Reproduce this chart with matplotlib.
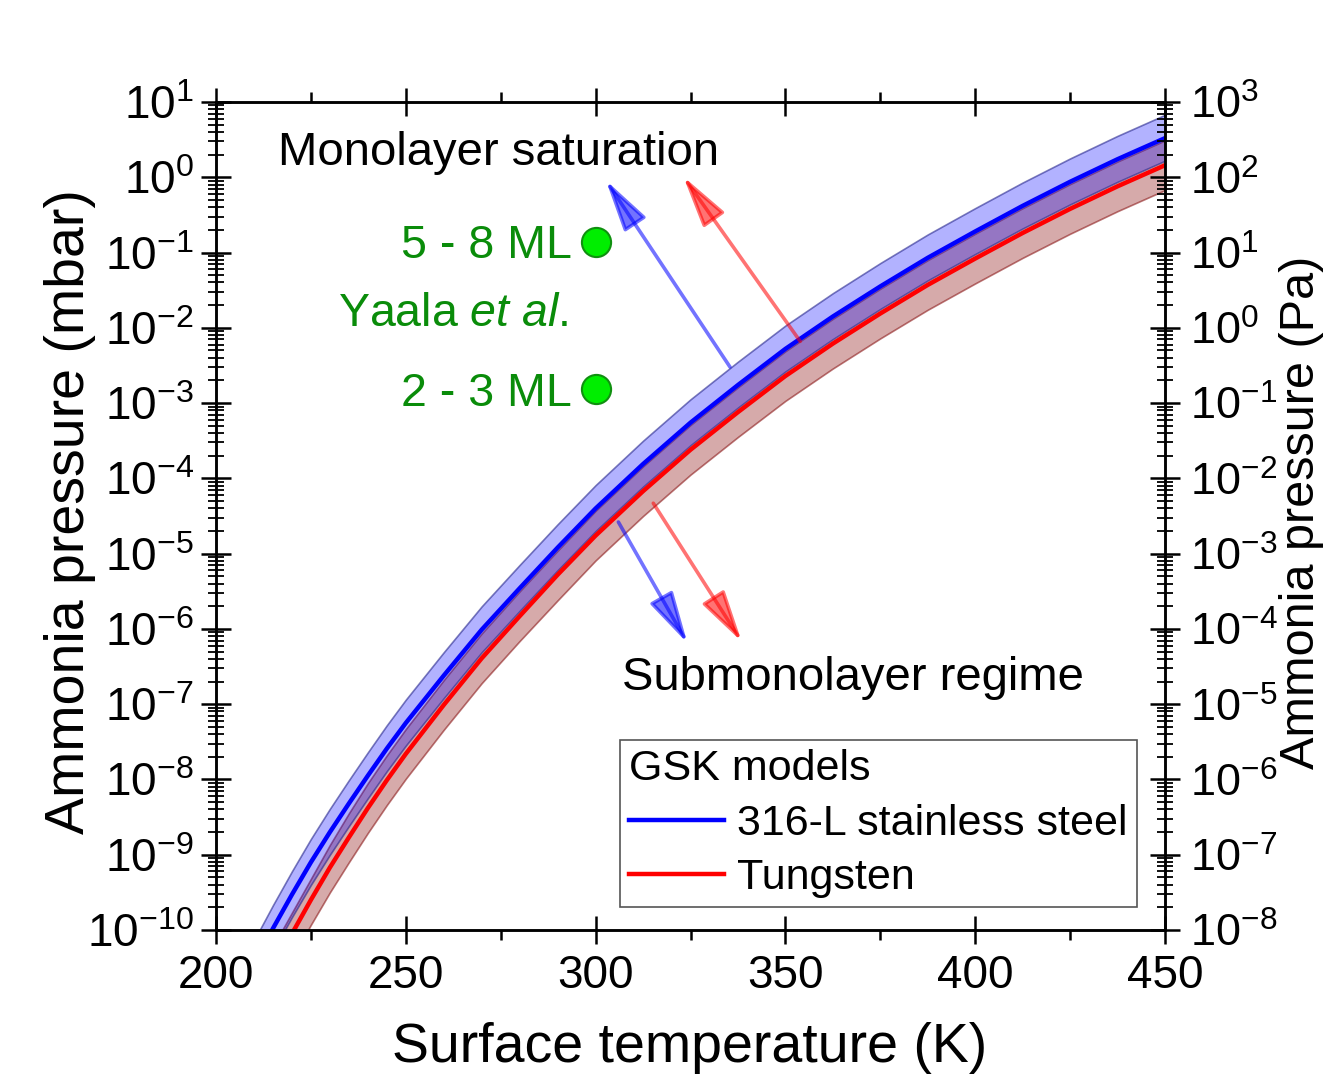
import numpy as np
import matplotlib
matplotlib.use("Agg")
import matplotlib.pyplot as plt
from matplotlib.ticker import LogLocator, MultipleLocator, NullFormatter

plt.rcParams['font.family'] = ['Liberation Sans', 'DejaVu Sans']
plt.rcParams['mathtext.fontset'] = 'custom'
plt.rcParams['mathtext.rm'] = 'Liberation Sans'
plt.rcParams['mathtext.it'] = 'Liberation Sans:italic'
plt.rcParams['mathtext.bf'] = 'Liberation Sans:bold'
plt.rcParams['axes.unicode_minus'] = False

# ---------- data (log10 of pressure in mbar) ----------
temp_steel = [210, 215, 220, 225, 230, 235, 240, 245, 250, 260, 270, 280, 290, 300,
              312.5, 325, 337.5, 350, 362.5, 375, 387.5, 400, 412.5, 425, 437.5, 450]
steel_log = [-10.45, -9.98, -9.53, -9.10, -8.70, -8.32, -7.95, -7.59, -7.25, -6.62, -6.01,
             -5.46, -4.92, -4.40, -3.81, -3.26, -2.76, -2.28, -1.85, -1.45, -1.07, -0.72,
             -0.38, -0.06, 0.24, 0.52]
steel_log_hi = [-10.14, -9.67, -9.22, -8.79, -8.39, -8.01, -7.64, -7.28, -6.94, -6.31, -5.70,
                -5.15, -4.61, -4.09, -3.50, -2.95, -2.45, -1.97, -1.54, -1.14, -0.76, -0.41,
                -0.07, 0.25, 0.55, 0.83]
steel_log_lo = [-10.75, -10.28, -9.83, -9.40, -9.00, -8.62, -8.25, -7.89, -7.55, -6.92, -6.31,
                -5.76, -5.22, -4.70, -4.11, -3.56, -3.06, -2.58, -2.15, -1.75, -1.37, -1.02,
                -0.68, -0.36, -0.06, 0.22]

temp_tungsten = [215, 220, 225, 230, 235, 240, 245, 250, 260, 270, 280, 290, 300,
                 312.5, 325, 337.5, 350, 362.5, 375, 387.5, 400, 412.5, 425, 437.5, 450]
tungsten_log = [-10.50, -10.05, -9.60, -9.17, -8.77, -8.38, -8.01, -7.66, -7.01, -6.39,
                -5.83, -5.28, -4.76, -4.17, -3.62, -3.12, -2.64, -2.21, -1.81, -1.43,
                -1.08, -0.74, -0.42, -0.12, 0.16]
tungsten_log_hi = [-10.22, -9.77, -9.32, -8.87, -8.45, -8.05, -7.68, -7.33, -6.68, -6.06,
                   -5.50, -4.96, -4.43, -3.84, -3.29, -2.79, -2.31, -1.88, -1.48, -1.10,
                   -0.75, -0.41, -0.09, 0.21, 0.49]
tungsten_log_lo = [-10.83, -10.38, -9.93, -9.50, -9.10, -8.71, -8.34, -7.99, -7.34, -6.72,
                   -6.16, -5.62, -5.09, -4.50, -3.95, -3.45, -2.97, -2.54, -2.14, -1.76,
                   -1.41, -1.07, -0.75, -0.45, -0.17]

# Yaala et al. points
yaala_temp = [300, 300]
yaala_log = [-0.86, -2.81]
yaala_labels = ['5 - 8 ML', '2 - 3 ML']

# arrows: (T tail, log p tail, T head, log p head, colour)
arrows = [
    (335.4, -2.52, 302.7, -0.04, 'blue'),
    (353.9, -2.18, 323.1, 0.01, 'red'),
    (306.0, -4.58, 324.2, -6.19, 'blue'),
    (315.2, -4.33, 338.5, -6.17, 'red'),
]

# ---------- figure ----------
fig = plt.figure(figsize=(13.3, 10.79), dpi=100)
ax = fig.add_axes([216 / 1330, 149 / 1079, 949 / 1330, 828 / 1079])

p = lambda v: 10.0 ** np.array(v)

ax.fill_between(temp_tungsten, p(tungsten_log_lo), p(tungsten_log_hi),
                facecolor=(0.55, 0.05, 0.05, 0.35), edgecolor=(0.55, 0.1, 0.1, 0.6), lw=1.2)
ax.fill_between(temp_steel, p(steel_log_lo), p(steel_log_hi),
                facecolor=(0, 0, 1, 0.3), edgecolor=(0.15, 0.15, 0.55, 0.6), lw=1.2)
l_w, = ax.plot(temp_tungsten, p(tungsten_log), color='#ff0000', lw=3.2)
l_s, = ax.plot(temp_steel, p(steel_log), color='#0000ff', lw=3.2)

ax.plot(yaala_temp, p(yaala_log), 'o', ms=21, mfc='#00ee00', mec='#109010', mew=1.5,
        linestyle='none', zorder=5)

for t0, l0, t1, l1, c in arrows:
    ax.annotate('', xy=(t1, 10 ** l1), xytext=(t0, 10 ** l0),
                arrowprops=dict(arrowstyle='-|>,head_length=1.6,head_width=0.4',
                                mutation_scale=20, color=c, alpha=0.55, lw=2.6,
                                shrinkA=0, shrinkB=0))

green = '#0a8c0a'
ax.text(0.3751, 0.8116, yaala_labels[0], transform=ax.transAxes, ha='right',
        va='baseline', fontsize=33.5, color=green)
ax.text(0.3751, 0.6329, yaala_labels[1], transform=ax.transAxes, ha='right',
        va='baseline', fontsize=33.5, color=green)
ax.text(0.1286, 0.7295, r'Yaala $\it{et\ al.}$', transform=ax.transAxes, ha='left',
        va='baseline', fontsize=33.5, color=green)
ax.text(0.0653, 0.9239, 'Monolayer saturation', transform=ax.transAxes,
        va='baseline', fontsize=34)
ax.text(0.4278, 0.2899, 'Submonolayer regime', transform=ax.transAxes,
        va='baseline', fontsize=34)

# axes
ax.set_xlim(200, 450)
ax.set_yscale('log')
ax.set_ylim(1e-10, 1e1)
ax.xaxis.set_major_locator(MultipleLocator(50))
ax.xaxis.set_minor_locator(MultipleLocator(25))
ax.yaxis.set_major_locator(LogLocator(base=10, numticks=30))
ax.yaxis.set_minor_locator(LogLocator(base=10, subs=np.arange(2, 10), numticks=300))
ax.yaxis.set_minor_formatter(NullFormatter())

ax.tick_params(axis='y', which='major', direction='inout', length=22, width=1.8,
               labelsize=33, pad=5, left=True, right=False)
ax.tick_params(axis='y', which='minor', direction='inout', length=11, width=1.3,
               left=True, right=False)
ax.tick_params(axis='x', which='major', direction='inout', length=20, width=1.8,
               labelsize=33, pad=7, top=True, bottom=True)
ax.tick_params(axis='x', which='minor', direction='out', length=7, width=1.8,
               top=True, bottom=True)
for s in ax.spines.values():
    s.set_linewidth(1.8)

ax2 = ax.twinx()
ax2.set_yscale('log')
ax2.set_ylim(1e-8, 1e3)
ax2.yaxis.set_major_locator(LogLocator(base=10, numticks=30))
ax2.yaxis.set_minor_locator(LogLocator(base=10, subs=np.arange(2, 10), numticks=300))
ax2.yaxis.set_minor_formatter(NullFormatter())
ax2.tick_params(axis='y', which='major', direction='inout', length=22, width=1.8,
                labelsize=32.5, pad=7, left=False, right=True)
ax2.tick_params(axis='y', which='minor', direction='inout', length=11, width=1.3,
                left=False, right=True)
for s in ax2.spines.values():
    s.set_linewidth(1.8)

leg = ax.legend([l_s, l_w], ['316-L stainless steel', 'Tungsten'], title='GSK models',
                loc='upper left', bbox_to_anchor=(0.4257, 0.2295), borderaxespad=0,
                fontsize=31, title_fontsize=31, alignment='left', handlelength=2.2,
                handletextpad=0.3, borderpad=0.22, labelspacing=0.33, fancybox=False,
                framealpha=1, edgecolor='#555555')
leg.get_frame().set_linewidth(1.2)

fig.text(70 / 1330, 1 - 512 / 1079, 'Ammonia pressure (mbar)', rotation=90,
         ha='center', va='center', fontsize=40)
fig.text(1302 / 1330, 1 - 512 / 1079, 'Ammonia pressure (Pa)', rotation=90,
         ha='center', va='center', fontsize=35)
fig.text(690 / 1330, 1 - 1062 / 1079, 'Surface temperature (K)',
         ha='center', va='baseline', fontsize=40)

fig.savefig('out.png', dpi=100)
